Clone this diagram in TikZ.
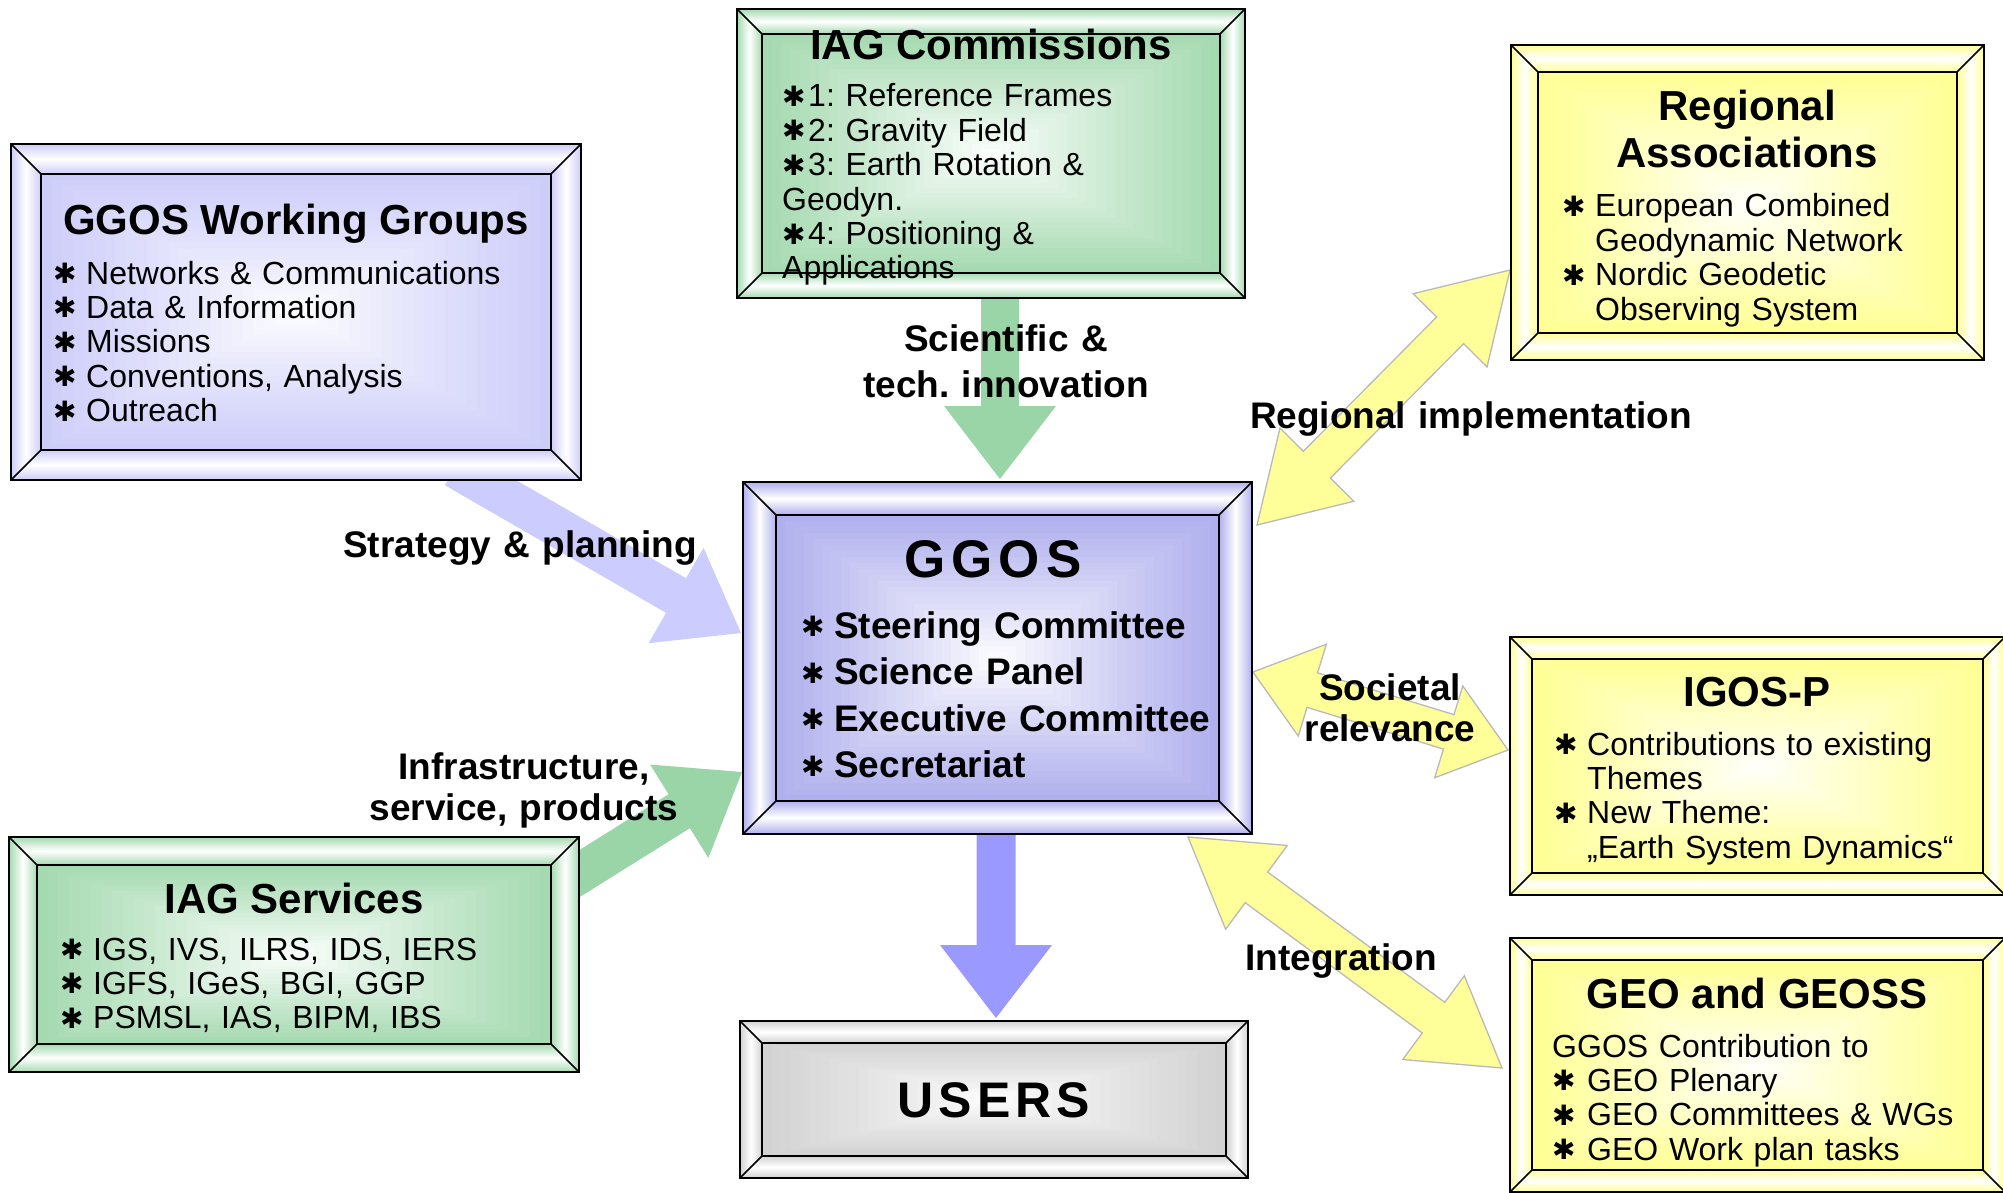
\documentclass[tikz,border=0pt]{standalone}
\usepackage{fontspec}
\setmainfont{Liberation Sans}
\newfontfamily\symfont{DejaVu Sans}
\usetikzlibrary{calc}
\definecolor{cWG}{RGB}{205,205,250}
\definecolor{cGG}{RGB}{176,176,238}
\definecolor{cGR}{RGB}{165,218,176}
\definecolor{cYE}{RGB}{255,255,150}
\definecolor{cUS}{RGB}{210,210,210}
\definecolor{aLav}{RGB}{204,204,255}
\definecolor{aGreen}{RGB}{153,213,166}
\definecolor{aBlue}{RGB}{153,153,255}
\definecolor{aYel}{RGB}{255,255,153}
\definecolor{aYelEdge}{RGB}{185,185,185}
\newcommand\starw[2]{\makebox[#1][l]{\raisebox{#2}{\symfont\fontsize{28}{28}\selectfont ✱}}}
\newcommand\blockarrow[6]{%
  \path[#1] ($(#2)!#6!90:(#3)$) -- ($(#3)!#4!(#2)!#6!90:(#3)$) -- ($(#3)!#4!(#2)!#5!90:(#3)$) -- (#3) -- ($(#3)!#4!(#2)!#5!-90:(#3)$) -- ($(#3)!#4!(#2)!#6!-90:(#3)$) -- ($(#2)!#6!-90:(#3)$) -- cycle;}
\newcommand\dblarrow[6]{%
  \path[#1] (#2) -- ($(#2)!#4!(#3)!#5!90:(#3)$) -- ($(#2)!#4!(#3)!#6!90:(#3)$) -- ($(#3)!#4!(#2)!#6!90:(#3)$) -- ($(#3)!#4!(#2)!#5!90:(#3)$) -- (#3) -- ($(#3)!#4!(#2)!#5!-90:(#3)$) -- ($(#3)!#4!(#2)!#6!-90:(#3)$) -- ($(#2)!#4!(#3)!#6!-90:(#3)$) -- ($(#2)!#4!(#3)!#5!-90:(#3)$) -- cycle;}
\newcommand\bevelbox[3]{%
  \coordinate (#1o1) at (#1.north west);
  \coordinate (#1o2) at (#1.north east);
  \coordinate (#1o3) at (#1.south east);
  \coordinate (#1o4) at (#1.south west);
  \coordinate (#1i1) at ($(#1o1)+(#2,#2)$);
  \coordinate (#1i2) at ($(#1o2)+(-#2,#2)$);
  \coordinate (#1i3) at ($(#1o3)+(-#2,-#2)$);
  \coordinate (#1i4) at ($(#1o4)+(#2,-#2)$);
  \shade[top color=#3, bottom color=#3, middle color=white] (#1o1) -- (#1o2) -- (#1i2) -- (#1i1) -- cycle;
  \shade[top color=#3, bottom color=#3, middle color=white] (#1o4) -- (#1o3) -- (#1i3) -- (#1i4) -- cycle;
  \shade[left color=#3, right color=#3, middle color=white] (#1o1) -- (#1i1) -- (#1i4) -- (#1o4) -- cycle;
  \shade[left color=#3, right color=#3, middle color=white] (#1o2) -- (#1i2) -- (#1i3) -- (#1o3) -- cycle;
  \foreach \k in {0,...,23}{%
    \pgfmathsetmacro\h{\k/48}%
    \pgfmathsetmacro\pc{100*(1-\k/24)^0.9}%
    \fill[#3!\pc!white] ($(#1i1)!\h!(#1i3)$) rectangle ($(#1i3)!\h!(#1i1)$);
  }
  \draw[innerline] (#1i1) rectangle (#1i3);
  \draw[innerline] (#1o1) -- (#1i1) (#1o2) -- (#1i2) (#1o3) -- (#1i3) (#1o4) -- (#1i4);
  \draw[frameline] (#1o1) rectangle (#1o3);
}
\begin{document}
\frenchspacing
\begin{tikzpicture}[x=1pt,y=-1pt,
  boxshape/.style={rectangle, inner sep=0pt, outer sep=0pt},
  frameline/.style={draw=black, line width=2pt},
  innerline/.style={draw=black, line width=1.6pt},
  yarrow/.style={fill=aYel, draw=aYelEdge, line width=1.3pt},
  ttl/.style={inner sep=0pt, anchor=base, font=\fontsize{42}{47}\selectfont\bfseries},
  ttltwo/.style={inner sep=0pt, anchor=base, text width=460pt, align=center, font=\fontsize{42}{47}\selectfont\bfseries},
  lst/.style={inner sep=0pt, anchor=base west, text width=460pt, align=left, font=\fontsize{32}{34.4}\selectfont\frenchspacing},
  lstb/.style={inner sep=0pt, anchor=base west, text width=460pt, align=left, font=\fontsize{37}{46.5}\selectfont\bfseries},
  lbl/.style={inner sep=0pt, anchor=base, text width=500pt, align=center, font=\fontsize{37}{46}\selectfont\bfseries\frenchspacing},
  lbltwo/.style={inner sep=0pt, anchor=base, text width=500pt, align=center, font=\fontsize{37}{41}\selectfont\bfseries}]
\clip (0,0) rectangle (2003,1193);
\fill[white] (0,0) rectangle (2003,1193);

% box nodes
\node[boxshape, minimum width=570pt, minimum height=336pt] (wg) at (296,312) {};
\node[boxshape, minimum width=508pt, minimum height=289pt] (comm) at (991,153.5) {};
\node[boxshape, minimum width=473pt, minimum height=315pt] (reg) at (1747.5,202.5) {};
\node[boxshape, minimum width=509pt, minimum height=352pt] (ggos) at (997.5,658) {};
\node[boxshape, minimum width=508pt, minimum height=157pt] (users) at (994,1099.5) {};
\node[boxshape, minimum width=570pt, minimum height=235pt] (serv) at (294,954.5) {};
\node[boxshape, minimum width=495pt, minimum height=258pt] (igos) at (1757.5,766) {};
\node[boxshape, minimum width=495pt, minimum height=254pt] (geo) at (1757.5,1065) {};

% connectors
\coordinate (stratA) at (455,468);
\coordinate (stratB) at (741,633);
\blockarrow{fill=aLav}{stratA}{stratB}{75pt}{55pt}{20pt}
\coordinate (sciA) at (1000,280);
\coordinate (sciB) at (1000,479);
\blockarrow{fill=aGreen}{sciA}{sciB}{73pt}{56pt}{19pt}
\coordinate (usrA) at (996,815);
\coordinate (usrB) at (996,1018);
\blockarrow{fill=aBlue}{usrA}{usrB}{73pt}{56pt}{19.5pt}
\coordinate (infA) at (462,947);
\coordinate (infB) at (742,772);
\blockarrow{fill=aGreen}{infA}{infB}{74pt}{55pt}{20pt}
\coordinate (regA) at (1257,525);
\coordinate (regB) at (1510,270);
\dblarrow{yarrow}{regA}{regB}{85pt}{52pt}{19pt}
\coordinate (socA) at (1253,672);
\coordinate (socB) at (1508,750);
\dblarrow{yarrow}{socA}{socB}{62pt}{48pt}{18pt}
\coordinate (intA) at (1188,837);
\coordinate (intB) at (1502,1068);
\dblarrow{yarrow}{intA}{intB}{85pt}{52pt}{19pt}

% frames
\bevelbox{wg}{30}{cWG}
\bevelbox{comm}{25}{cGR}
\bevelbox{reg}{27}{cYE}
\bevelbox{ggos}{33}{cGG}
\bevelbox{users}{22}{cUS}
\bevelbox{serv}{28}{cGR}
\bevelbox{igos}{22}{cYE}
\bevelbox{geo}{22}{cYE}

% texts
\node[ttl] (wgT) at (296,235) {GGOS Working Groups};
\node[lst] (wgL) at (53,284) {\starw{33pt}{0.5pt}Networks \& Communications\\
\starw{33pt}{0.5pt}Data \& Information\\
\starw{33pt}{0.5pt}Missions\\
\starw{33pt}{0.5pt}Conventions, Analysis\\
\starw{33pt}{0.5pt}Outreach};

\node[ttl] (commT) at (991,60) {IAG Commissions};
\node[lst] (commL) at (782,107) {\starw{26pt}{0.5pt}1: Reference Frames\\
\starw{26pt}{0.5pt}2: Gravity Field\\
\starw{26pt}{0.5pt}3: Earth Rotation \&\\
Geodyn.\\
\starw{26pt}{0.5pt}4: Positioning \&\\
Applications};

\node[ttltwo] (regT) at (1747,121) {Regional\\Associations};
\node[lst] (regL) at (1562,217) {\starw{33pt}{0.5pt}European Combined\\
\hspace*{33pt}Geodynamic Network\\
\starw{33pt}{0.5pt}Nordic Geodetic\\
\hspace*{33pt}Observing System};

\node[inner sep=0pt, anchor=base, font=\fontsize{53}{60}\selectfont\bfseries] (ggosT) at (993,577) {G\kern6pt G\kern6pt O\kern6pt S};
\node[lstb] (ggosL) at (801,638) {\starw{33pt}{1.5pt}Steering Committee\\
\starw{33pt}{1.5pt}Science Panel\\
\starw{33pt}{1.5pt}Executive Committee\\
\starw{33pt}{1.5pt}Secretariat};

\node[ttl] (igosT) at (1757,706) {IGOS-P};
\node[lst] (igosL) at (1554,755) {\starw{33pt}{0.5pt}Contributions to existing\\
\hspace*{33pt}Themes\\
\starw{33pt}{0.5pt}New Theme:\\
\hspace*{33pt}„Earth System Dynamics“};

\node[ttl] (geoT) at (1757,1008) {GEO and GEOSS};
\node[lst] (geoL) at (1552,1057) {GGOS Contribution to\\
\starw{35pt}{0.5pt}GEO Plenary\\
\starw{35pt}{0.5pt}GEO Committees \& WGs\\
\starw{35pt}{0.5pt}GEO Work plan tasks};

\node[ttl] (servT) at (294,913) {IAG Services};
\node[lst] (servL) at (60,960) {\starw{33pt}{0.5pt}IGS, IVS, ILRS, IDS, IERS\\
\starw{33pt}{0.5pt}IGFS, IGeS, BGI, GGP\\
\starw{33pt}{0.5pt}PSMSL, IAS, BIPM, IBS};

\node[inner sep=0pt, anchor=base, font=\fontsize{50}{56}\selectfont\bfseries] (usersT) at (994,1117) {U\kern5pt S\kern5pt E\kern5pt R\kern5pt S};

% connector labels
\node[lbl] (sciT) at (1006,351) {Scientific \&\\tech. innovation};
\node[lbl] (stratT) at (520,557) {Strategy \& planning};
\node[lbltwo] (infT) at (524,779) {Infrastructure,\\service, products};
\node[lbl] (regImp) at (1471,428) {Regional implementation};
\node[lbltwo] (socT) at (1390,700) {Societal\\relevance};
\node[lbl] (intT) at (1341,970) {Integration};
\end{tikzpicture}
\end{document}
